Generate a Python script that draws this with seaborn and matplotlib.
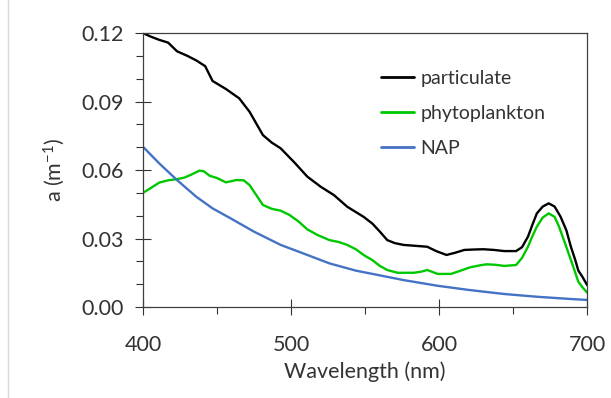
import pandas as pd
import matplotlib.pyplot as plt
import seaborn as sns

# spectra (wavelength nm, absorption m^-1)
wl_part = [400, 405, 411, 417, 423, 430, 436, 442, 447, 456, 465, 472, 481, 487, 493,
           502, 511, 520, 529, 538, 549, 555, 560, 565, 570, 576, 584, 592, 598, 605,
           611, 617, 624, 630, 637, 644, 652, 656, 660, 663, 666, 670, 674, 678, 682,
           686, 689, 692, 694, 697, 700]
a_part = [0.120, 0.1185, 0.117, 0.1158, 0.112, 0.110, 0.108, 0.1055, 0.099, 0.0955,
          0.0914, 0.0855, 0.0753, 0.0720, 0.0695, 0.0635, 0.0571, 0.0527, 0.0490,
          0.0439, 0.0395, 0.0365, 0.0330, 0.0293, 0.0280, 0.0272, 0.0268, 0.0264,
          0.0245, 0.0228, 0.0238, 0.0250, 0.0252, 0.0253, 0.0250, 0.0245, 0.0245,
          0.0262, 0.0308, 0.0360, 0.0410, 0.0440, 0.0454, 0.0440, 0.0396, 0.0335,
          0.0264, 0.0205, 0.0160, 0.0130, 0.0096]

wl_phyto = [400, 405, 411, 417, 423, 428, 432, 438, 441, 445, 450, 456, 463, 468, 472,
            481, 487, 493, 499, 505, 511, 518, 526, 532, 538, 544, 549, 555, 560, 565,
            572, 583, 588, 592, 599, 608, 614, 621, 628, 632, 638, 644, 652, 656, 660,
            663, 666, 670, 674, 678, 681, 685, 689, 692, 694, 697, 700]
a_phyto = [0.0500, 0.0520, 0.0545, 0.0555, 0.0560, 0.0567, 0.0578, 0.0597, 0.0595,
           0.0575, 0.0565, 0.0546, 0.0556, 0.0555, 0.0534, 0.0447, 0.0430, 0.0422,
           0.0403, 0.0375, 0.0340, 0.0315, 0.0293, 0.0285, 0.0272, 0.0252, 0.0228,
           0.0205, 0.0180, 0.0162, 0.0150, 0.0150, 0.0155, 0.0162, 0.0145, 0.0145,
           0.0158, 0.0174, 0.0183, 0.0187, 0.0185, 0.0180, 0.0184, 0.0215, 0.0264,
           0.0310, 0.0352, 0.0392, 0.0410, 0.0395, 0.0352, 0.0280, 0.0206, 0.0150,
           0.0111, 0.0085, 0.0063]

wl_nap = [400, 411, 423, 436, 447, 459, 475, 493, 511, 526, 544, 555, 576, 599, 621,
          644, 666, 689, 700]
a_nap = [0.0702, 0.0629, 0.0556, 0.0483, 0.0432, 0.0389, 0.0330, 0.0272, 0.0228,
         0.0191, 0.0159, 0.0145, 0.0118, 0.0093, 0.0074, 0.0057, 0.0045, 0.0035, 0.0031]

series = ['particulate', 'phytoplankton', 'NAP']
colors = ['#000000', '#00C800', '#4472C4']

df = pd.concat([
    pd.DataFrame({'wl': wl_part, 'a': a_part, 'type': 'particulate'}),
    pd.DataFrame({'wl': wl_phyto, 'a': a_phyto, 'type': 'phytoplankton'}),
    pd.DataFrame({'wl': wl_nap, 'a': a_nap, 'type': 'NAP'}),
])

sns.set_style('ticks')
plt.rcParams['font.family'] = ['Lato', 'DejaVu Sans']
plt.rcParams['mathtext.fontset'] = 'custom'
plt.rcParams['mathtext.rm'] = 'Lato'
plt.rcParams['mathtext.it'] = 'Lato'
txt = '#333333'

fig = plt.figure(figsize=(6.11, 3.98), dpi=100)
ax = fig.add_axes([0.234, 0.2286, 0.727, 0.6884])

sns.lineplot(data=df, x='wl', y='a', hue='type', hue_order=series,
             palette=colors, linewidth=1.7, ax=ax, legend=True)

ax.set_xlim(400, 700)
ax.set_ylim(0, 0.12)
ax.set_xticks([400, 500, 600, 700])
ax.set_xticks([450, 550, 650], minor=True)
ax.set_yticks([0, 0.03, 0.06, 0.09, 0.12])
ax.set_yticks([0.01, 0.02, 0.04, 0.05, 0.07, 0.08, 0.10, 0.11], minor=True)
ax.set_yticklabels(['0.00', '0.03', '0.06', '0.09', '0.12'])
ax.tick_params(which='major', direction='inout', length=12, width=0.8,
               labelsize=15.5, colors=txt)
ax.tick_params(axis='y', which='major', pad=8)
ax.tick_params(axis='x', which='major', pad=14)
ax.tick_params(which='minor', direction='out', length=5, width=0.8, color=txt)
for s in ax.spines.values():
    s.set_color('#404040')
    s.set_linewidth(0.9)

ax.set_xlabel('Wavelength (nm)', fontsize=15.5, color=txt, labelpad=5)
ax.set_ylabel('a (m$^{-1}$)', fontsize=15.5, color=txt, labelpad=10)

leg = ax.legend(loc='upper left', bbox_to_anchor=(0.497, 0.93), frameon=False,
                fontsize=14, handlelength=1.7, handletextpad=0.3, labelspacing=0.93)
for t in leg.get_texts():
    t.set_color(txt)
for h in leg.get_lines():
    h.set_linewidth(2)

fig.add_artist(plt.Line2D([8 / 611, 8 / 611], [0, 1], color='#d9d9d9', linewidth=1))

fig.savefig('out.png', dpi=100)
